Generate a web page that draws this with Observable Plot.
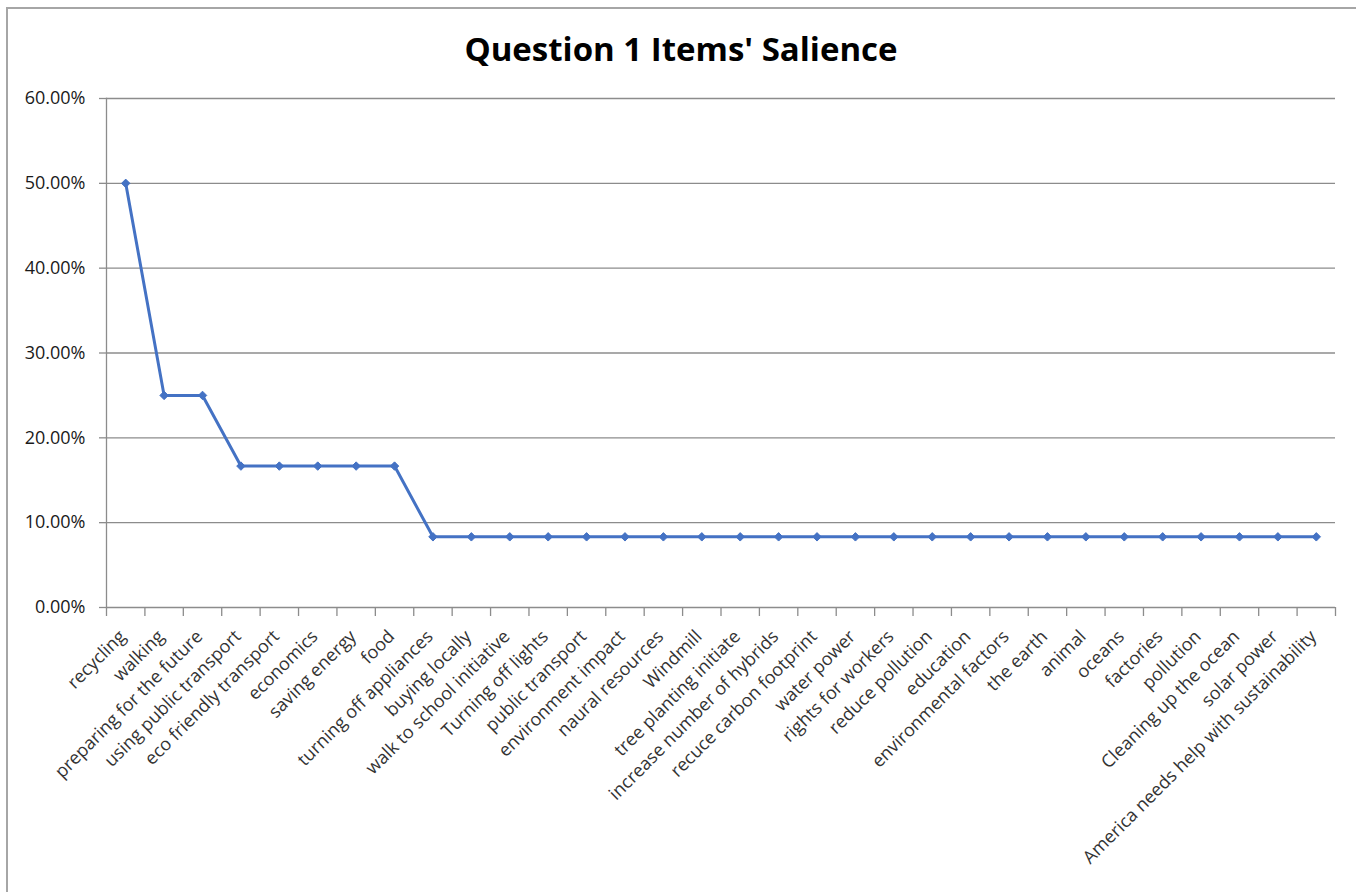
<!DOCTYPE html>
<html>
<head>
<meta charset="utf-8">
<script src="https://cdn.jsdelivr.net/npm/d3@7"></script>
<script src="https://cdn.jsdelivr.net/npm/@observablehq/plot@0.6"></script>
<style>
  html, body { margin: 0; padding: 0; background: #fff; }
  body { width: 1356px; height: 892px; position: relative; overflow: hidden; font-family: "Open Sans", sans-serif; }
  #frame { position: absolute; left: 6px; top: 7px; width: 1400px; height: 1000px; border-left: 2px solid #a6a6a6; border-top: 2px solid #a6a6a6; box-sizing: border-box; }
  #title { position: absolute; left: 0; width: 1362px; top: 27px; text-align: center; font-family: "Open Sans", sans-serif; font-weight: bold; font-size: 33px; color: #000; line-height: 44px; }
  #chart { position: absolute; left: 0; top: 0; }
</style>
</head>
<body>
<div id="frame"></div>
<div id="chart"></div>
<div id="title">Question 1 Items' Salience</div>
<script>
const categories = [
  "recycling", "walking", "preparing for the future", "using public transport",
  "eco friendly transport", "economics", "saving energy", "food",
  "turning off appliances", "buying locally", "walk to school initiative", "Turning off lights",
  "public transport", "environment impact", "naural resources", "Windmill",
  "tree planting initiate", "increase number of hybrids", "recuce carbon footprint", "water power",
  "rights for workers", "reduce pollution", "education", "environmental factors",
  "the earth", "animal", "oceans", "factories",
  "pollution", "Cleaning up the ocean", "solar power", "America needs help with sustainability"
];
const salience = [
  0.5, 0.25, 0.25, 0.1667,
  0.1667, 0.1667, 0.1667, 0.1667,
  0.0833, 0.0833, 0.0833, 0.0833,
  0.0833, 0.0833, 0.0833, 0.0833,
  0.0833, 0.0833, 0.0833, 0.0833,
  0.0833, 0.0833, 0.0833, 0.0833,
  0.0833, 0.0833, 0.0833, 0.0833,
  0.0833, 0.0833, 0.0833, 0.0833
];
const yTicks = [0, 0.1, 0.2, 0.3, 0.4, 0.5, 0.6];

const data = categories.map((c, i) => ({category: c, value: salience[i]}));

const W = 1356, H = 892;
const mL = 106, mR = 21, mT = 98, mB = 285;
const step = (W - mL - mR) / categories.length;
const blue = "#4472C4";
const gray = "#8c8c8c";

const chart = Plot.plot({
  width: W,
  height: H,
  marginLeft: mL,
  marginRight: mR,
  marginTop: mT,
  marginBottom: mB,
  style: {fontFamily: "'Open Sans', sans-serif", fontSize: "17px", color: "#262626", background: "transparent"},
  x: {type: "point", domain: categories, padding: 0.5, round: false, label: null},
  y: {domain: [0, 0.6], label: null},
  marks: [
    Plot.gridY(yTicks, {stroke: gray, strokeOpacity: 1, strokeWidth: 1.3}),
    Plot.axisY(yTicks, {tickSize: 7, tickPadding: 14, stroke: gray, strokeWidth: 1.3, tickFormat: d3.format(".2%"), fontSize: 18, fill: "#1a1a1a", label: null}),
    Plot.frame({anchor: "left", stroke: gray, strokeWidth: 1.3}),
    Plot.axisX(categories, {dx: -step / 2, tickSize: 9, stroke: gray, strokeWidth: 1.3, text: null, label: null}),
    Plot.axisX([categories[categories.length - 1]], {dx: step / 2, tickSize: 9, stroke: gray, strokeWidth: 1.3, text: null, label: null}),
    Plot.axisX(categories, {tickSize: 0, tickPadding: 26, dx: -3, tickRotate: -45, fontSize: 18, fill: "#333333", label: null}),
    Plot.line(data, {x: "category", y: "value", stroke: blue, strokeWidth: 3}),
    Plot.dot(data, {x: "category", y: "value", symbol: "diamond2", fill: blue, stroke: blue, strokeWidth: 1, r: 3.8})
  ]
});
document.getElementById("chart").appendChild(chart);
</script>
</body>
</html>
